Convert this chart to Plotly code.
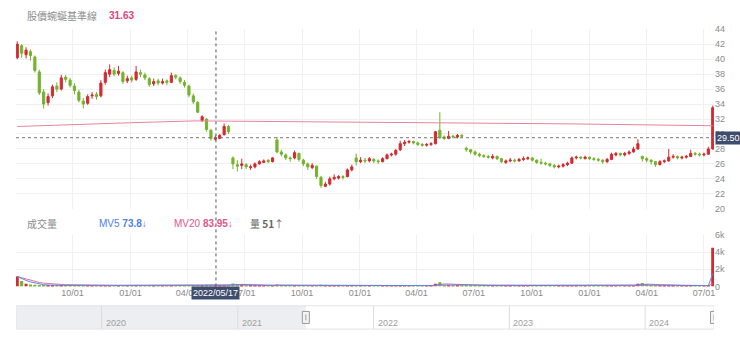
import pandas as pd
import plotly.graph_objects as go

# ---------------- data (weekly candles) ----------------
start_date = "2021-07-05"
n_weeks = 159

opens = [40.2, 41.8, 40.6, 41.0, 40.3, 38.3, 35.6, 34.2, 35.1, 36.4,
         36.0, 37.6, 37.2, 36.4, 35.6, 34.4, 34.1, 35.1, 35.3, 35.1,
         36.9, 38.0, 38.5, 38.1, 38.2, 37.1, 37.5, 37.3, 38.2, 37.9,
         37.4, 36.7, 37.1, 36.8, 37.1, 36.9, 37.8, 37.5, 36.9, 36.4,
         35.1, 34.2, 31.8, 32.0, 30.5, 29.3, 29.4, 29.9, 31.0, 26.8,
         25.9, 25.8, 25.9, 25.5, 25.6, 26.0, 26.2, 26.5, 26.3, 29.2,
         27.6, 27.2, 26.8, 26.8, 27.4, 26.5, 26.0, 25.5, 25.7, 24.2,
         23.0, 23.3, 24.0, 24.1, 24.3, 24.3, 25.2, 26.8, 26.3, 26.5,
         26.4, 26.6, 26.4, 26.3, 26.7, 27.2, 27.3, 27.9, 28.7, 28.9,
         29.0, 28.8, 28.6, 28.5, 28.6, 28.7, 30.5, 29.6, 29.4, 29.7,
         29.6, 29.8, 28.1, 27.9, 27.6, 27.3, 27.1, 27.0, 26.8, 27.0,
         26.7, 26.2, 26.4, 26.5, 26.4, 26.6, 26.7, 26.8, 26.5, 26.2,
         26.1, 26.0, 25.8, 25.6, 25.7, 25.9, 26.1, 26.8, 26.9, 26.7,
         26.9, 26.7, 26.6, 26.5, 26.3, 26.6, 27.2, 27.4, 27.2, 27.4,
         27.6, 28.0, 27.0, 26.7, 26.5, 26.3, 25.9, 26.3, 26.4, 26.9,
         27.0, 26.8, 26.9, 27.0, 27.4, 27.3, 27.2, 27.3, 28.0]

closes = [42.0, 40.8, 41.2, 40.5, 38.5, 35.5, 34.0, 35.0, 36.3, 36.0,
          37.5, 37.3, 36.5, 35.8, 34.5, 34.0, 35.0, 35.2, 35.0, 36.8,
          38.2, 38.6, 38.0, 38.4, 37.0, 37.4, 37.2, 38.3, 38.0, 37.5,
          36.6, 37.0, 36.8, 37.0, 36.9, 37.8, 37.6, 37.0, 36.5, 35.2,
          34.3, 32.9, 32.3, 30.6, 29.4, 29.5, 29.8, 31.0, 30.3, 26.0,
          25.7, 26.0, 25.6, 25.6, 26.0, 26.3, 26.4, 26.3, 26.8, 27.6,
          27.3, 26.8, 26.7, 27.5, 26.6, 26.0, 25.6, 25.8, 24.3, 23.1,
          23.3, 24.0, 24.2, 24.3, 24.2, 25.2, 25.6, 26.3, 26.5, 26.4,
          26.7, 26.4, 26.3, 26.7, 27.2, 27.3, 27.8, 28.7, 28.9, 29.0,
          28.8, 28.6, 28.5, 28.6, 28.7, 30.3, 29.5, 29.4, 29.7, 29.6,
          29.8, 29.7, 27.9, 27.6, 27.3, 27.1, 27.0, 26.9, 27.0, 26.7,
          26.3, 26.4, 26.5, 26.4, 26.6, 26.7, 26.8, 26.5, 26.2, 26.1,
          26.0, 25.8, 25.6, 25.7, 25.9, 26.1, 26.8, 26.9, 26.8, 26.9,
          26.7, 26.6, 26.5, 26.3, 26.6, 27.3, 27.4, 27.2, 27.4, 27.6,
          28.0, 28.7, 26.7, 26.5, 26.3, 25.9, 26.3, 26.4, 26.9, 27.0,
          26.8, 26.9, 27.0, 27.4, 27.3, 27.2, 27.3, 28.0, 33.5]

highs = [42.4, 42.0, 41.6, 41.3, 40.5, 38.6, 36.0, 35.4, 36.6, 36.9,
         37.9, 37.9, 37.5, 36.8, 35.9, 34.8, 35.3, 35.6, 35.6, 37.2,
         38.6, 39.3, 38.9, 39.1, 38.4, 37.8, 37.8, 39.1, 38.6, 38.2,
         37.6, 37.4, 37.4, 37.4, 37.3, 38.2, 38.0, 37.7, 37.2, 36.6,
         35.4, 34.4, 32.5, 32.1, 30.7, 29.8, 30.0, 31.4, 31.2, 27.0,
         26.5, 26.7, 26.1, 25.9, 26.2, 26.5, 26.6, 26.6, 26.9, 29.6,
         27.9, 27.4, 27.0, 27.8, 27.5, 26.7, 26.2, 26.1, 25.8, 24.4,
         23.6, 24.3, 24.6, 24.5, 24.5, 25.4, 25.9, 27.4, 26.9, 26.8,
         26.9, 26.8, 26.6, 26.9, 27.4, 27.5, 28.0, 29.1, 29.2, 29.2,
         29.1, 29.0, 28.8, 28.8, 28.9, 30.4, 32.9, 29.8, 30.4, 29.9,
         30.0, 30.0, 28.3, 28.0, 27.8, 27.5, 27.3, 27.2, 27.3, 27.1,
         26.8, 26.6, 26.8, 26.7, 26.8, 27.0, 27.0, 26.9, 26.6, 26.7,
         26.3, 26.1, 26.0, 25.9, 26.1, 26.3, 27.0, 27.1, 27.0, 27.1,
         27.0, 26.9, 26.8, 26.6, 26.8, 27.5, 27.6, 27.5, 27.6, 27.8,
         28.3, 29.3, 27.1, 26.9, 26.6, 26.4, 26.5, 26.6, 28.0, 27.3,
         27.1, 27.1, 27.2, 27.9, 27.6, 27.5, 27.5, 28.3, 33.8]

lows = [40.0, 40.2, 40.1, 39.8, 38.2, 35.2, 33.4, 33.8, 34.8, 35.6,
        35.8, 36.9, 36.2, 35.3, 34.2, 33.4, 33.9, 34.7, 34.6, 34.9,
        36.6, 37.6, 37.7, 37.8, 36.7, 36.8, 36.9, 37.1, 37.6, 37.2,
        36.3, 36.4, 36.5, 36.6, 36.5, 36.8, 37.3, 36.7, 36.2, 34.9,
        34.0, 32.8, 31.6, 30.3, 29.1, 29.1, 29.3, 29.8, 30.0, 25.3,
        25.0, 25.3, 25.3, 25.2, 25.4, 25.9, 26.1, 26.1, 26.2, 27.4,
        27.0, 26.5, 26.3, 26.6, 26.3, 25.7, 25.2, 25.3, 24.0, 22.8,
        22.9, 23.1, 23.8, 23.9, 23.9, 24.2, 25.0, 25.8, 26.1, 26.1,
        26.2, 26.1, 26.0, 26.2, 26.6, 27.0, 27.1, 27.7, 28.4, 28.7,
        28.6, 28.4, 28.3, 28.3, 28.4, 28.6, 29.3, 29.2, 29.3, 29.4,
        29.4, 29.5, 27.6, 27.3, 27.1, 26.9, 26.8, 26.7, 26.6, 26.5,
        26.1, 26.0, 26.2, 26.2, 26.3, 26.4, 26.5, 26.3, 26.0, 25.9,
        25.8, 25.6, 25.4, 25.4, 25.5, 25.7, 26.0, 26.6, 26.6, 26.6,
        26.5, 26.4, 26.3, 26.0, 26.1, 26.5, 27.0, 27.0, 27.0, 27.2,
        27.5, 27.9, 26.3, 26.2, 25.9, 25.6, 25.8, 26.1, 26.3, 26.7,
        26.6, 26.6, 26.7, 26.9, 27.1, 27.0, 27.0, 27.2, 27.9]

volume = [1150, 620, 320, 210, 180, 160, 140, 120, 110, 130,
          120, 100, 110, 120, 130, 110, 100, 90, 100, 140,
          160, 130, 110, 100, 110, 100, 90, 120, 100, 90,
          100, 90, 80, 90, 100, 110, 100, 90, 110, 130,
          150, 170, 160, 180, 200, 150, 130, 160, 140, 330,
          260, 180, 150, 130, 120, 110, 100, 100, 110, 220,
          160, 130, 120, 130, 110, 120, 130, 120, 150, 180,
          140, 120, 110, 100, 100, 120, 130, 150, 120, 110,
          100, 90, 90, 100, 110, 100, 110, 160, 130, 110,
          100, 90, 90, 90, 100, 300, 480, 200, 180, 150,
          130, 120, 220, 150, 120, 100, 90, 90, 80, 90,
          100, 90, 80, 80, 90, 90, 80, 80, 90, 90,
          100, 110, 100, 90, 80, 90, 110, 100, 90, 80,
          80, 90, 80, 90, 80, 110, 100, 90, 100, 110,
          160, 300, 400, 250, 160, 130, 110, 100, 120, 110,
          100, 90, 80, 80, 100, 90, 80, 70, 4500]

mv5 = [1150, 900, 700, 520, 400, 300, 200, 160, 140, 130,
       125, 118, 115, 115, 118, 118, 112, 105, 100, 110,
       125, 135, 130, 120, 110, 105, 100, 105, 105, 100,
       100, 98, 92, 90, 92, 95, 100, 100, 102, 110,
       125, 145, 155, 165, 175, 172, 165, 160, 155, 200,
       240, 230, 210, 180, 150, 135, 120, 110, 108, 140,
       160, 150, 140, 135, 125, 122, 122, 125, 130, 145,
       150, 140, 130, 115, 108, 110, 118, 125, 128, 125,
       115, 105, 98, 95, 98, 102, 105, 120, 125, 120,
       115, 105, 98, 92, 92, 150, 250, 280, 270, 250,
       200, 160, 170, 160, 150, 130, 110, 100, 92, 90,
       92, 90, 88, 86, 88, 88, 86, 85, 86, 87,
       90, 95, 100, 98, 95, 92, 95, 98, 96, 92,
       88, 86, 84, 85, 84, 90, 95, 95, 98, 102,
       115, 160, 230, 260, 250, 210, 180, 140, 125, 115,
       110, 105, 100, 92, 90, 88, 86, 84, 1500]

mv20 = [1150, 1000, 850, 700, 560, 460, 380, 320, 280, 250,
        230, 210, 195, 180, 165, 150, 140, 132, 125, 122,
        120, 118, 116, 115, 114, 113, 112, 112, 111, 110,
        108, 106, 104, 102, 100, 100, 100, 100, 100, 102,
        106, 112, 118, 124, 130, 136, 140, 145, 148, 160,
        170, 175, 178, 178, 175, 170, 162, 155, 148, 145,
        142, 138, 134, 130, 128, 126, 126, 127, 128, 130,
        132, 132, 131, 130, 128, 126, 125, 125, 124, 123,
        120, 117, 114, 112, 110, 108, 107, 108, 109, 109,
        108, 107, 106, 105, 104, 115, 135, 145, 152, 158,
        162, 165, 168, 168, 165, 160, 150, 140, 128, 118,
        110, 104, 100, 96, 94, 92, 90, 89, 88, 87,
        87, 88, 89, 90, 90, 90, 91, 92, 92, 92,
        91, 90, 90, 89, 89, 90, 91, 92, 93, 94,
        98, 108, 125, 140, 150, 155, 158, 160, 160, 158,
        150, 140, 130, 120, 110, 105, 100, 96, 300]

baseline_dates = ["2021-07-05", "2021-10-01", "2022-01-01", "2022-04-15", "2022-07-01",
                  "2022-12-01", "2023-06-01", "2023-12-01", "2024-07-15"]
baseline_vals = [31.0, 31.2, 31.5, 31.75, 31.7, 31.6, 31.55, 31.35, 31.1]

price_ticks = [20, 22, 24, 26, 28, 30, 32, 34, 36, 38, 40, 42, 44]
vol_ticks = [0, 2000, 4000, 6000]
vol_tick_text = ["0", "2k", "4k", "6k"]
nav_years = ["2020", "2021", "2022", "2023", "2024"]

cross_date = "2022-05-17"
cross_price = 29.50
baseline_label = "31.63"

view_range = ["2021-07-03", "2024-07-17"]
nav_range = ["2019-05-16", "2024-07-04"]

dates = pd.date_range(start_date, periods=n_weeks, freq="7D")

RED = "#d42a31"
GREEN = "#74b32b"
GRID = "#f0f0f0"
LABEL = "#8a8a8a"
FONT = "Liberation Sans, Noto Sans CJK TC, sans-serif"
CJK = "Noto Sans CJK TC, sans-serif"

vol_colors = [RED if c >= o else GREEN for o, c in zip(opens, closes)]

fig = go.Figure()

fig.add_trace(go.Scatter(x=baseline_dates, y=baseline_vals, mode="lines",
                         line=dict(color="#e8849f", width=1), xaxis="x", yaxis="y",
                         hoverinfo="skip"))

fig.add_trace(go.Candlestick(x=dates, open=opens, high=highs, low=lows, close=closes,
                             increasing=dict(line=dict(color=RED, width=1), fillcolor=RED),
                             decreasing=dict(line=dict(color=GREEN, width=1), fillcolor=GREEN),
                             whiskerwidth=0, xaxis="x", yaxis="y"))

fig.add_trace(go.Bar(x=dates, y=volume, marker=dict(color=vol_colors, line=dict(width=0)),
                     xaxis="x2", yaxis="y2"))
fig.add_trace(go.Scatter(x=dates, y=mv20, mode="lines", line=dict(color="#e0709a", width=1),
                         xaxis="x2", yaxis="y2"))
fig.add_trace(go.Scatter(x=dates, y=mv5, mode="lines", line=dict(color="#5b86e0", width=1),
                         xaxis="x2", yaxis="y2"))

# invisible trace to host the navigator axis
fig.add_trace(go.Scatter(x=nav_range, y=[0, 0], mode="lines", line=dict(width=0),
                         xaxis="x3", yaxis="y3", hoverinfo="skip"))

fig.update_layout(
    width=740, height=337,
    margin=dict(l=16, r=26, t=0, b=0),
    paper_bgcolor="white", plot_bgcolor="white",
    showlegend=False,
    font=dict(family=FONT, size=9, color=LABEL),
    xaxis=dict(domain=[0, 1], anchor="y", range=view_range, type="date",
               showticklabels=False, showgrid=True, gridcolor=GRID, gridwidth=1,
               tick0="2021-10-01", dtick="M3", zeroline=False, showline=False,
               rangeslider=dict(visible=False), fixedrange=True),
    yaxis=dict(domain=[1 - 210 / 337, 1 - 25 / 337], range=[20, 44], side="right",
               tickvals=price_ticks, showgrid=True, gridcolor=GRID, zeroline=False,
               showline=False, ticks="", tickfont=dict(size=9, color=LABEL)),
    xaxis2=dict(domain=[0, 1], anchor="y2", range=view_range, type="date",
                matches="x", showgrid=True, gridcolor=GRID, tick0="2021-10-01", dtick="M3",
                tickformat="%m/%d", ticks="", showline=False, zeroline=False,
                tickfont=dict(size=9, color=LABEL)),
    yaxis2=dict(domain=[1 - 290 / 337, 1 - 237 / 337], range=[0, 6000], side="right",
                tickvals=vol_ticks, ticktext=vol_tick_text, showgrid=True, gridcolor=GRID,
                zeroline=False, showline=False, ticks="", tickfont=dict(size=9, color=LABEL)),
    xaxis3=dict(domain=[0, 1], anchor="y3", range=nav_range, type="date",
                visible=False, showgrid=False),
    yaxis3=dict(domain=[1 - 334 / 337, 1 - 310 / 337], range=[0, 1], visible=False),
    bargap=0.3,
)

shapes = []
nav_y0 = 1 - 334 / 337
nav_y1 = 1 - 310 / 337
# navigator: shaded out-of-view area, border, year dividers
shapes.append(dict(type="rect", xref="x3", yref="paper", x0=nav_range[0], x1=view_range[0],
                   y0=nav_y0, y1=nav_y1, fillcolor="#eceef1", line=dict(width=0), layer="below"))
shapes.append(dict(type="rect", xref="x3", yref="paper", x0=nav_range[0], x1=nav_range[1],
                   y0=nav_y0, y1=nav_y1, fillcolor="rgba(0,0,0,0)",
                   line=dict(color="#e2e4e8", width=1)))
for yr in nav_years:
    shapes.append(dict(type="line", xref="x3", yref="paper", x0=f"{yr}-01-01", x1=f"{yr}-01-01",
                       y0=nav_y0, y1=nav_y1, line=dict(color="#dcdcdc", width=1)))
# navigator handles
nav_mid = (nav_y0 + nav_y1) / 2
for hx in [view_range[0], nav_range[1]]:
    shapes.append(dict(type="rect", xref="x3", yref="paper", xsizemode="pixel", ysizemode="pixel",
                       xanchor=hx, yanchor=nav_mid, x0=-3.5, x1=3.5, y0=-6, y1=6,
                       fillcolor="#f4f4f4", line=dict(color="#9a9a9a", width=1)))
    shapes.append(dict(type="line", xref="x3", yref="paper", xsizemode="pixel", ysizemode="pixel",
                       xanchor=hx, yanchor=nav_mid, x0=0, x1=0, y0=-3, y1=3,
                       line=dict(color="#9a9a9a", width=1)))
# crosshair
shapes.append(dict(type="line", xref="x", yref="paper", x0=cross_date, x1=cross_date,
                   y0=1 - 290 / 337, y1=1 - 24 / 337,
                   line=dict(color="#555555", width=1, dash="3px,3px")))
shapes.append(dict(type="line", xref="paper", yref="y", x0=0, x1=1, y0=cross_price, y1=cross_price,
                   line=dict(color="#777777", width=1, dash="3px,3px")))
fig.update_layout(shapes=shapes)

ann = []
ann.append(dict(xref="paper", yref="paper", x=(25 - 16) / 698, y=1 - 11 / 337, xanchor="left",
                yanchor="middle", showarrow=False, text="股價蜿蜒基準線",
                font=dict(family=CJK, size=10, color="#8c8c8c")))
ann.append(dict(xref="paper", yref="paper", x=(107 - 16) / 698, y=1 - 11 / 337, xanchor="left",
                yanchor="middle", showarrow=False, text=f"<b>{baseline_label}</b>",
                font=dict(family=FONT, size=10, color="#e0457e")))
ann.append(dict(xref="paper", yref="paper", x=(25 - 16) / 698, y=1 - 225 / 337, xanchor="left",
                yanchor="middle", showarrow=False, text="成交量",
                font=dict(family=CJK, size=10, color="#8c8c8c")))
ann.append(dict(xref="paper", yref="paper", x=(97 - 16) / 698, y=1 - 225 / 337, xanchor="left",
                yanchor="middle", showarrow=False, text="MV5 <b>73.8</b>↓",
                font=dict(family=FONT, size=10, color="#4f7fe0")))
ann.append(dict(xref="paper", yref="paper", x=(172 - 16) / 698, y=1 - 225 / 337, xanchor="left",
                yanchor="middle", showarrow=False, text="MV20 <b>83.95</b>↓",
                font=dict(family=FONT, size=10, color="#e0568a")))
ann.append(dict(xref="paper", yref="paper", x=(248 - 16) / 698, y=1 - 225 / 337, xanchor="left",
                yanchor="middle", showarrow=False, text="量 <b>51</b>↑",
                font=dict(family=CJK, size=10, color="#666666")))
# crosshair labels
ann.append(dict(xref="paper", yref="y", x=1.0, y=cross_price, xanchor="left", yanchor="middle",
                showarrow=False, text=f"{cross_price:.2f}", bgcolor="#3e4c6d",
                borderpad=1, xshift=1, font=dict(family=FONT, size=9, color="white")))
ann.append(dict(xref="x2", yref="paper", x=cross_date, y=1 - 297 / 337, xanchor="center",
                yanchor="middle", showarrow=False, text=cross_date.replace("-", "/"),
                bgcolor="#3e4c6d", borderpad=1, font=dict(family=FONT, size=9, color="white")))
# navigator year labels
for yr in nav_years:
    ann.append(dict(xref="x3", yref="paper", x=f"{yr}-01-01", y=1 - 328 / 337, xanchor="left",
                    yanchor="middle", xshift=2, showarrow=False, text=yr,
                    font=dict(family=FONT, size=9, color="#a0a0a0")))
fig.update_layout(annotations=ann)

fig.write_html("out.html")
